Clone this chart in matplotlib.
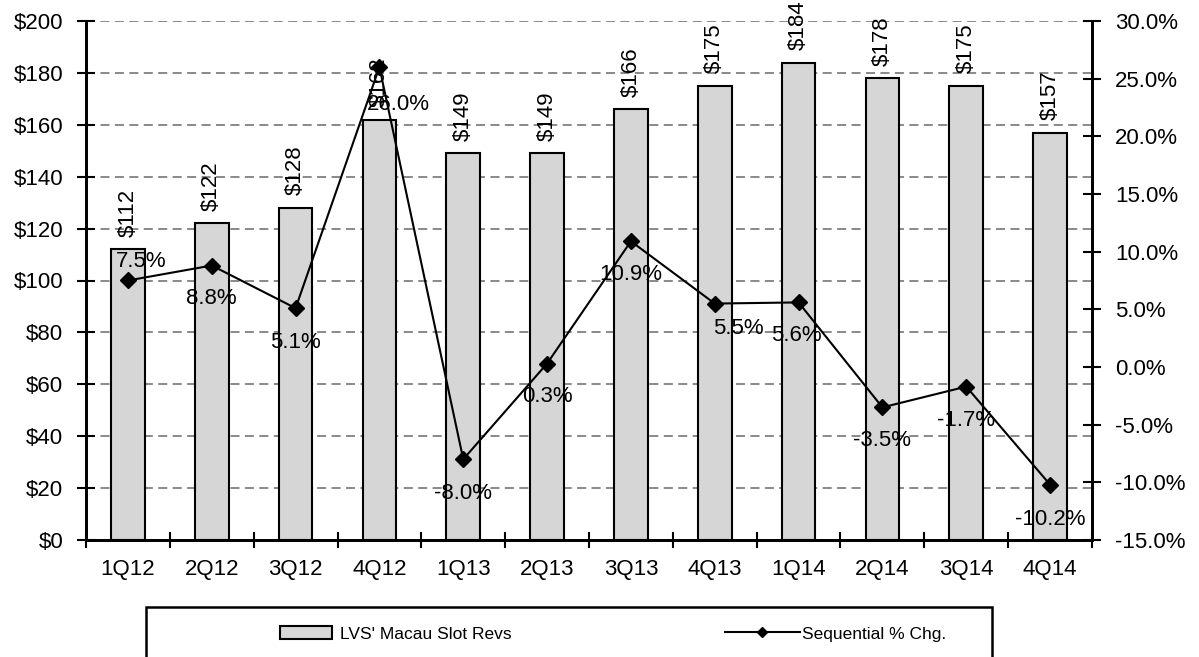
import matplotlib.pyplot as plt
from matplotlib.patches import Rectangle
from matplotlib.lines import Line2D
from matplotlib.ticker import FuncFormatter, MultipleLocator

plt.rcParams['font.family'] = ['Liberation Sans', 'DejaVu Sans']

# data
quarters = ['1Q12', '2Q12', '3Q12', '4Q12', '1Q13', '2Q13',
            '3Q13', '4Q13', '1Q14', '2Q14', '3Q14', '4Q14']
slot_revs = [112, 122, 128, 162, 149, 149, 166, 175, 184, 178, 175, 157]
seq_chg = [7.5, 8.8, 5.1, 26.0, -8.0, 0.3, 10.9, 5.5, 5.6, -3.5, -1.7, -10.2]

# label offsets (pixels) for the % labels
pct_offsets = [(13, 19), (0, -33), (0, -34), (19, -37), (0, -34), (0, -33),
               (0, -33), (24, -25), (-2, -33), (0, -33), (0, -34), (0, -35)]

fig = plt.figure(figsize=(11.99, 6.57), dpi=100)
ax = fig.add_axes([86/1199, 1-540/657, (1092-86)/1199, (540-21)/657])
ax2 = ax.twinx()

x = list(range(len(quarters)))

# bars
bars = ax.bar(x, slot_revs, width=0.4, color='#d6d6d6', edgecolor='black', linewidth=1.5, zorder=2)
ax.bar_label(bars, labels=['$%d' % v for v in slot_revs], rotation=90, padding=9, fontsize=16)

ax.set_xlim(-0.5, 11.5)
ax.set_ylim(0, 200)
ax.yaxis.set_major_locator(MultipleLocator(20))
ax.yaxis.set_major_formatter(FuncFormatter(lambda v, p: '$%d' % v))
ax.set_axisbelow(True)
ax.grid(axis='y', color='#808080', linestyle=(0, (5, 3)), linewidth=1.3)

# category ticks at boundaries, labels at centres
ax.set_xticks([i - 0.5 for i in range(13)])
ax.set_xticklabels([])
ax.set_xticks(x, minor=True)
ax.set_xticklabels(quarters, minor=True, fontsize=16)
ax.tick_params(axis='x', which='major', direction='inout', length=11, width=1.5)
ax.tick_params(axis='x', which='minor', length=0, pad=14)
ax.tick_params(axis='y', direction='inout', length=13, width=1.5, labelsize=16, pad=10)

# line
ax2.plot(x, seq_chg, color='black', linewidth=1.5, marker='D', markersize=8, zorder=3)
ax2.set_ylim(-15, 30)
ax2.yaxis.set_major_locator(MultipleLocator(5))
ax2.yaxis.set_major_formatter(FuncFormatter(lambda v, p: '%.1f%%' % v))
ax2.tick_params(axis='y', direction='inout', length=13, width=1.5, labelsize=16, pad=10)

for i, v in enumerate(seq_chg):
    dx, dy = pct_offsets[i]
    ax2.annotate('%.1f%%' % v, (i, v), xytext=(dx, dy), textcoords='offset pixels',
                 ha='center', va='center', fontsize=16)

for a in (ax, ax2):
    a.spines['top'].set_visible(False)
    for s in ('left', 'right', 'bottom'):
        a.spines[s].set_linewidth(2)

# legend box (cut off at the bottom, as in the source)
fig.patches.append(Rectangle((146/1199, -0.05), (992-146)/1199, (657-607)/657 + 0.05,
                             transform=fig.transFigure, fill=False, edgecolor='black',
                             linewidth=1.8))

h1 = Rectangle((0, 0), 1, 1, facecolor='#d6d6d6', edgecolor='black', linewidth=1.5)
h2 = Line2D([], [], color='black', linewidth=1.5, marker='D', markersize=5)
fig.legend([h1], ["LVS' Macau Slot Revs"], loc='center left',
           bbox_to_anchor=(280/1199, 1-634/657), frameon=False, fontsize=12.5,
           borderpad=0, borderaxespad=0, handlelength=3.0, handleheight=0.75,
           handletextpad=0.45)
fig.legend([h2], ['Sequential % Chg.'], loc='center left',
           bbox_to_anchor=(725/1199, 1-634/657), frameon=False, fontsize=12.5,
           borderpad=0, borderaxespad=0, handlelength=4.3, handletextpad=0.15)

plt.savefig('out.png', dpi=100)
